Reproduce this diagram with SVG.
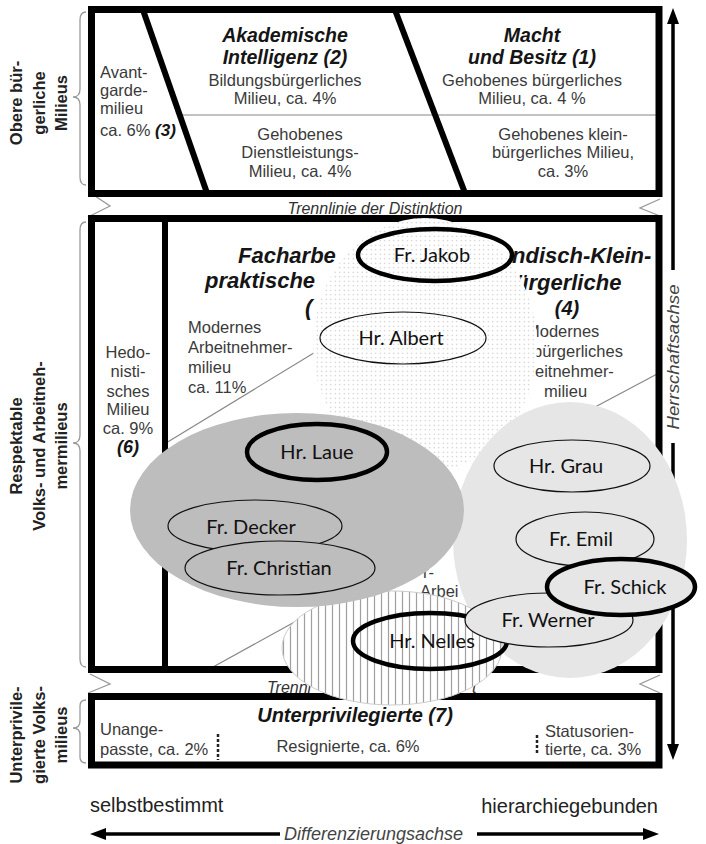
<svg xmlns="http://www.w3.org/2000/svg" width="706" height="844" viewBox="0 0 706 844">
<style>
.reg{font-family:"Liberation Sans",Arial,sans-serif;font-size:16.5px;fill:#3a3a3a}
.bi{font-family:"Liberation Sans",Arial,sans-serif;font-weight:bold;font-style:italic;fill:#151515}
.lab{font-family:"Liberation Sans",Arial,sans-serif;font-weight:bold;font-size:16.5px;fill:#222;text-anchor:middle}
.it{font-family:"Liberation Sans",Arial,sans-serif;font-style:italic;fill:#444}
.mid{text-anchor:middle}
.box{fill:none;stroke:#000;stroke-width:7}
.thick{stroke:#000;stroke-width:6;fill:none}
.thin{stroke:#888;stroke-width:1.2;fill:none}
.brace{stroke:#999;stroke-width:1.3;fill:none}
.node-thin{stroke:#111;stroke-width:1.2}
.node-thick{stroke:#000;stroke-width:4.5}
.nt{font-family:Lato,"Open Sans",sans-serif;font-size:20px;fill:#111;text-anchor:middle}
.axis{stroke:#000;stroke-width:3.5;fill:none}
</style>
<defs>
<pattern id="dots" width="4.5" height="4.5" patternUnits="userSpaceOnUse">
<rect width="4.5" height="4.5" fill="#fff"/>
<circle cx="2.25" cy="2.25" r="0.65" fill="#bdbdbd"/>
</pattern>
<pattern id="hatch" width="7" height="10" patternUnits="userSpaceOnUse">
<rect width="7" height="10" fill="#fff"/>
<line x1="3.5" y1="0" x2="3.5" y2="10" stroke="#a0a0a0" stroke-width="1.2"/>
</pattern>
</defs>
<rect width="706" height="844" fill="#fff"/>

<!-- Left braces and group labels -->
<g id="labels-left">
<path class="brace" d="M86 12 Q80 12 80 20 L80 89 Q80 97 73 97 Q80 97 80 105 L80 177 Q80 185 86 185"/>
<path class="brace" d="M86 222 Q80 222 80 230 L80 435 Q80 443 73 443 Q80 443 80 451 L80 659 Q80 667 86 667"/>
<path class="brace" d="M86 700 Q80 700 80 706 L80 721 Q80 728 73 728 Q80 728 80 735 L80 757 Q80 763 86 763"/>
<polyline class="brace" points="95,196 110,206 88,217"/>
<polyline class="brace" points="90,674 110,684 88,693"/>
<polyline class="brace" points="660,199 640,208 660,216"/>
<polyline class="brace" points="660,675 640,684 660,693"/>
<g transform="translate(0,103) rotate(-90)">
<text class="lab" x="0" y="21.5">Obere bür-</text>
<text class="lab" x="0" y="44.5">gerliche</text>
<text class="lab" x="0" y="67">Milieus</text>
</g>
<g transform="translate(0,446) rotate(-90)">
<text class="lab" x="0" y="21.5">Respektable</text>
<text class="lab" x="0" y="44.5">Volks- und Arbeitneh-</text>
<text class="lab" x="0" y="67">mermilieus</text>
</g>
<g transform="translate(0,735) rotate(-90)">
<text class="lab" x="0" y="21.5">Unterprivile-</text>
<text class="lab" x="0" y="44.5">gierte Volks-</text>
<text class="lab" x="0" y="67">milieus</text>
</g>
</g>

<!-- Top box: Obere bürgerliche Milieus -->
<g id="top-box">
<line class="thin" x1="180" y1="115" x2="659" y2="115"/>
<text class="reg" x="100" y="78">Avant-</text>
<text class="reg" x="100" y="96">garde-</text>
<text class="reg" x="100" y="114">milieu</text>
<text class="reg" x="100" y="136">ca. 6% <tspan class="bi" font-size="17">(3)</tspan></text>
<text class="bi mid" x="285" y="42" font-size="19.5">Akademische</text>
<text class="bi mid" x="285" y="64" font-size="19.5">Intelligenz (2)</text>
<text class="reg mid" x="285" y="86">Bildungsbürgerliches</text>
<text class="reg mid" x="285" y="104">Milieu, ca. 4%</text>
<text class="reg mid" x="300" y="140">Gehobenes</text>
<text class="reg mid" x="300" y="158">Dienstleistungs-</text>
<text class="reg mid" x="300" y="177">Milieu, ca. 4%</text>
<text class="bi mid" x="532" y="42" font-size="19.5">Macht</text>
<text class="bi mid" x="532" y="64" font-size="19.5">und Besitz (1)</text>
<text class="reg mid" x="532" y="86">Gehobenes bürgerliches</text>
<text class="reg mid" x="532" y="104">Milieu, ca. 4 %</text>
<text class="reg mid" x="563" y="140">Gehobenes klein-</text>
<text class="reg mid" x="563" y="158">bürgerliches Milieu,</text>
<text class="reg mid" x="563" y="177">ca. 3%</text>
<line class="thick" x1="143" y1="10" x2="207" y2="193"/>
<line class="thick" x1="395" y1="10" x2="465" y2="193"/>
<rect class="box" x="91.5" y="9.5" width="567.5" height="184"/>
</g>

<text class="it mid" x="375" y="214" font-size="16" style="fill:#333">Trennlinie der Distinktion</text>

<!-- Middle box: Respektable Volks- und Arbeitnehmermilieus -->
<g id="middle-box">
<line class="thin" x1="166" y1="443" x2="322" y2="348"/>
<line class="thin" x1="580" y1="415" x2="659" y2="373"/>
<line class="thin" x1="213" y1="667" x2="300" y2="619"/>
<text class="reg mid" x="128" y="358">Hedo-</text>
<text class="reg mid" x="128" y="377">nisti-</text>
<text class="reg mid" x="128" y="397">sches</text>
<text class="reg mid" x="128" y="415">Milieu</text>
<text class="reg mid" x="128" y="434">ca. 9%</text>
<text class="bi mid" x="128" y="453" font-size="18">(6)</text>
<text class="bi" x="238" y="263" font-size="22">Facharbe</text>
<text class="bi" x="205" y="288" font-size="22">praktische</text>
<text class="bi" x="305" y="315" font-size="22">(</text>
<text class="reg" x="188" y="333">Modernes</text>
<text class="reg" x="188" y="353">Arbeitnehmer-</text>
<text class="reg" x="188" y="373">milieu</text>
<text class="reg" x="188" y="393">ca. 11%</text>
<text class="bi" x="512" y="263" font-size="22">ndisch-Klein-</text>
<text class="bi" x="515" y="290" font-size="22">ürgerliche</text>
<text class="bi mid" x="567" y="315" font-size="20">(4)</text>
<text class="reg" x="526" y="337">Modernes</text>
<text class="reg" x="533" y="357">bürgerliches</text>
<text class="reg" x="535" y="377">eitnehmer-</text>
<text class="reg" x="544" y="397">milieu</text>
<text class="reg" x="423" y="578">r-</text>
<text class="reg" x="420" y="597">Arbei</text>
<line class="thick" x1="165" y1="218" x2="165" y2="670"/>
<rect class="box" x="91.5" y="218.5" width="567.5" height="451"/>
</g>

<text class="it" x="267" y="693" font-size="16" style="fill:#333">Trennl</text>
<text class="it" x="472" y="693" font-size="16" style="fill:#333">t</text>

<!-- Bottom box: Unterprivilegierte -->
<g id="bottom-box">
<text class="bi mid" x="355" y="722" font-size="20">Unterprivilegierte (7)</text>
<text class="reg" x="100" y="735">Unange-</text>
<text class="reg" x="100" y="755">passte, ca. 2%</text>
<text class="reg mid" x="348" y="752">Resignierte, ca. 6%</text>
<text class="reg" x="545" y="737">Statusorien-</text>
<text class="reg" x="545" y="755">tierte, ca. 3%</text>
<line x1="218" y1="734" x2="218" y2="760" stroke="#222" stroke-width="2.5" stroke-dasharray="3,2"/>
<line x1="537" y1="735" x2="537" y2="755" stroke="#222" stroke-width="2.5" stroke-dasharray="3,2"/>
<rect class="box" x="91.5" y="696.5" width="567.5" height="68.5"/>
</g>

<!-- Axes -->
<g id="axes">
<line class="axis" x1="673" y1="22" x2="673" y2="270"/>
<polygon points="673,8 667,24 679,24" fill="#000"/>
<line class="axis" x1="673" y1="443" x2="673" y2="746"/>
<polygon points="673,760 667,744 679,744" fill="#000"/>
<text class="it mid" transform="translate(679,357) rotate(-90)" font-size="16" textLength="145" lengthAdjust="spacingAndGlyphs">Herrschaftsachse</text>
<line class="axis" x1="104" y1="834" x2="280" y2="834"/>
<polygon points="90,834 106,828 106,840" fill="#000"/>
<line class="axis" x1="477" y1="834" x2="645" y2="834"/>
<polygon points="659,834 643,828 643,840" fill="#000"/>
<text class="it" x="284" y="840" font-size="18">Differenzierungsachse</text>
<text x="90" y="812" font-family="Liberation Sans, Arial, sans-serif" font-size="20" fill="#222">selbstbestimmt</text>
<text x="658" y="813" font-family="Liberation Sans, Arial, sans-serif" font-size="20" fill="#222" text-anchor="end">hierarchiegebunden</text>
</g>

<!-- Milieu clusters -->
<g id="clusters">
<ellipse id="cluster-dotted" cx="425" cy="345" rx="112" ry="127" fill="url(#dots)"/>
<ellipse id="cluster-light" cx="570" cy="540" rx="117" ry="138" fill="#e6e6e6"/>
<ellipse id="cluster-hatched" cx="392" cy="648" rx="110" ry="57" fill="url(#hatch)" stroke="#ccc" stroke-width="1"/>
<ellipse id="cluster-dark" cx="297" cy="510" rx="167" ry="97" fill="#bdbdbd"/>
</g>

<!-- Persons -->
<g id="fr-jakob"><ellipse class="node-thick" cx="435" cy="255" rx="77" ry="26" fill="none"/><text class="nt" x="432" y="262">Fr. Jakob</text></g>
<g id="hr-albert"><ellipse class="node-thin" cx="403" cy="338" rx="83" ry="26" fill="none"/><text class="nt" x="401" y="345">Hr. Albert</text></g>
<g id="hr-laue"><ellipse class="node-thick" cx="317" cy="452" rx="70" ry="28" fill="none"/><text class="nt" x="317" y="459">Hr. Laue</text></g>
<g id="fr-decker"><ellipse class="node-thin" cx="255" cy="526" rx="87" ry="26" fill="none"/><text class="nt" x="251" y="534">Fr. Decker</text></g>
<g id="fr-christian"><ellipse class="node-thin" cx="280" cy="568" rx="95" ry="27" fill="#bdbdbd"/><text class="nt" x="279" y="575">Fr. Christian</text></g>
<g id="hr-grau"><ellipse class="node-thin" cx="572" cy="466" rx="78" ry="26" fill="none"/><text class="nt" x="566" y="473">Hr. Grau</text></g>
<g id="fr-emil"><ellipse class="node-thin" cx="585" cy="539" rx="69" ry="27" fill="none"/><text class="nt" x="581" y="546">Fr. Emil</text></g>
<g id="hr-nelles"><ellipse class="node-thick" cx="430" cy="641" rx="77" ry="28" fill="none"/><text class="nt" x="432" y="648">Hr. Nelles</text></g>
<g id="fr-werner"><ellipse class="node-thin" cx="549" cy="620" rx="84" ry="27" fill="#e6e6e6"/><text class="nt" x="548" y="627">Fr. Werner</text></g>
<g id="fr-schick"><ellipse class="node-thick" cx="621" cy="587" rx="74" ry="28" fill="#e6e6e6"/><text class="nt" x="625" y="594">Fr. Schick</text></g>
</svg>
